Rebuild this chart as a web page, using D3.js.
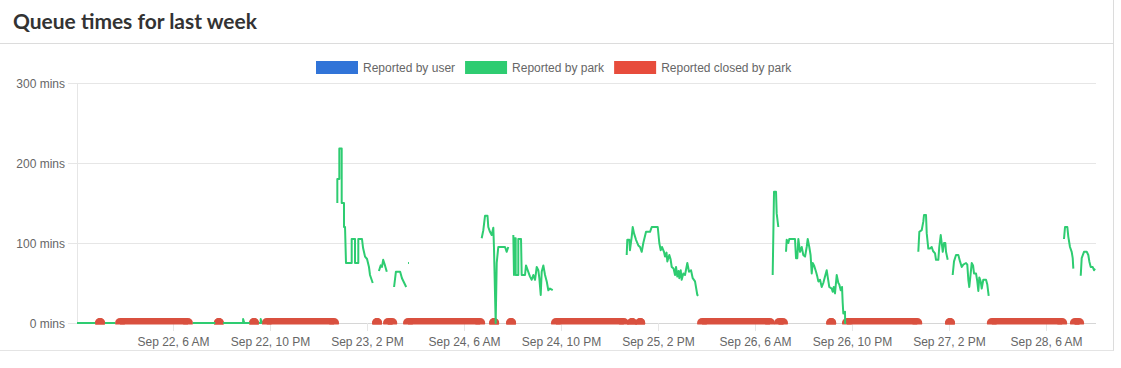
<!DOCTYPE html>
<html>
<head>
<meta charset="utf-8">
<script src="https://cdn.jsdelivr.net/npm/d3@7"></script>
<style>
  html, body { margin: 0; padding: 0; background: #fff; }
  svg { display: block; }
</style>
</head>
<body>
<svg id="chart" width="1121" height="368"></svg>
<script>
// ---------------- DATA ----------------
const chartTitle = "Queue times for last week";
const seriesNames = ["Reported by user", "Reported by park", "Reported closed by park"];
const seriesColors = ["#3174d8", "#2ecc71", "#e74c3c"];

// window start (all times below are hours since this moment)
const windowStart = "2023-09-21T14:10";
const windowHours = 168.08;

// y axis ticks (minutes)
const yTicks = [0, 100, 200, 300];

// x axis ticks
const xTickTimes = ["2023-09-22T06:00", "2023-09-22T22:00", "2023-09-23T14:00", "2023-09-24T06:00",
  "2023-09-24T22:00", "2023-09-25T14:00", "2023-09-26T06:00", "2023-09-26T22:00",
  "2023-09-27T14:00", "2023-09-28T06:00"];
const xTickLabels = ["Sep 22, 6 AM", "Sep 22, 10 PM", "Sep 23, 2 PM", "Sep 24, 6 AM",
  "Sep 24, 10 PM", "Sep 25, 2 PM", "Sep 26, 6 AM", "Sep 26, 10 PM",
  "Sep 27, 2 PM", "Sep 28, 6 AM"];

// reported by user: none in this week
const userReports = [];

// reported by park: [hours since start, minutes]; null = gap
const parkReports = [
  [0,0],[3.0,0], null,
  [4.6,0],[6.3,0], null,
  [19.1,0],[22.8,0], null,
  [24.1,0],[27.4,0],[27.4,5],[27.6,0],[28.5,0], null,
  [30.0,0],[30.3,0],[30.3,5],[30.45,0],[30.5,0], null,
  [42.94,150],[42.94,180],[43.27,180],[43.27,218],[43.66,218],[43.66,150],[44.04,150],[44.04,120],
  [44.21,120],[44.37,75],[45.31,75],[45.31,105],[45.86,105],[45.86,75],[46.40,75],[46.40,105],
  [47.01,105],[47.18,94],[47.51,83],[47.84,80],[48.16,70],[48.33,60],[48.78,50], null,
  [49.8,65],[50.1,72],[50.3,70],[50.5,79],[50.8,72],[51.1,64], null,
  [52.3,45],[52.6,64],[53.3,64],[53.6,56],[54.3,45], null,
  [54.6,75],[54.75,75], null,
  [66.75,106],[67.02,116],[67.30,134],[67.71,134],[67.84,120],[68.12,114],[68.40,110],[68.67,119],
  [68.78,94],[69.06,0],[69.23,75],[69.49,95],[70.60,95],[70.88,89],[71.14,95], null,
  [71.97,110],[72.08,60],[72.13,106],[72.36,106],[72.36,60],[72.79,60],[72.79,105],[73.24,105],
  [73.35,60],[73.90,60],[74.06,72],[74.44,64],[74.72,58],[75.00,54],[75.27,60],[75.55,54],
  [75.83,70],[76.09,66],[76.26,56],[76.49,35],[76.65,64],[76.92,72],[77.20,60],[77.48,52],
  [77.74,41],[78.02,43],[78.47,41], null,
  [90.67,85],[90.77,104],[91.10,104],[91.21,91],[91.50,108],[91.66,120],[91.88,112],[92.21,104],
  [92.59,97],[92.87,95],[93.15,89],[93.41,100],[93.86,114],[94.52,114],[94.80,120],[95.79,120],
  [96.05,100],[96.28,91],[96.49,95],[96.82,89],[96.99,83],[97.24,88],[97.37,77],[97.70,85],
  [97.90,80],[98.10,70],[98.40,68],[98.64,60],[98.81,70],[99.02,58],[99.22,65],[99.35,56],
  [99.58,66],[99.74,54],[100.01,62],[100.29,60],[100.67,75],[100.95,64],[101.28,66],[101.56,56],
  [101.94,52],[102.32,35],[102.48,34], null,
  [114.75,60],[114.97,164],[115.30,164],[115.41,137],[115.68,120], null,
  [116.95,89],[117.06,104],[117.33,100],[117.49,105],[118.43,105],[118.60,81],[118.81,81],[118.98,105],
  [119.26,89],[119.54,95],[119.80,85],[120.09,83],[120.36,95],[120.53,105],[120.79,95],[121.0,85],
  [121.19,62],[121.36,75],[121.57,72],[121.90,64],[122.11,58],[122.28,52],[122.56,54],[122.84,45],
  [123.10,50],[123.38,58],[123.66,66],[123.82,58],[124.09,45],[124.49,43],[124.65,39],[124.82,45],
  [125.03,37],[125.31,60],[125.58,50],[125.74,48],[125.97,41],[126.19,45],[126.30,25],[126.40,12],
  [126.68,14],[126.7,0],[126.85,0], null,
  [138.77,89],[138.94,114],[139.33,116],[139.60,127],[139.71,135],[140.04,135],[140.16,112],[140.42,93],
  [140.70,93],[140.98,95],[141.2,90],[141.53,87],[141.69,79],[142.07,79],[142.23,95],[142.47,110],
  [142.63,100],[142.80,89],[143.01,100],[143.23,100],[143.34,89],[143.62,79], null,
  [144.44,60],[144.66,77],[144.99,85],[145.37,85],[145.65,77],[145.93,70],[146.19,73],[146.64,75],
  [146.85,73],[147.02,54],[147.18,45],[147.41,62],[147.58,75],[147.80,72],[147.96,62],[148.29,62],
  [148.50,52],[148.67,40],[148.83,57],[149.06,52],[149.23,43],[149.49,54],[149.94,54],[150.15,48],
  [150.38,34], null,
  [162.80,105],[162.97,120],[163.35,120],[163.51,108],[163.79,95],[164.07,89],[164.24,81],[164.34,68], null,
  [165.56,59],[165.72,81],[166.10,89],[166.55,89],[166.81,85],[166.98,77],[167.21,70],[167.54,70],
  [167.75,66],[167.92,68]
];

// reported closed by park: periods [from, to] in hours since start
const closedFrom = [3.8, 7.1, 23.4, 29.2, 31.3, 49.5, 51.3, 54.6, 68.8, 71.6,
  79.0, 91.55, 92.9, 103.1, 115.8, 124.4, 127.0, 144.0, 150.9, 164.6];
const closedTo = [3.8, 18.3, 23.4, 29.2, 42.4, 49.5, 52.0, 66.5, 68.8, 71.6,
  90.2, 91.55, 92.9, 114.3, 116.45, 124.4, 138.6, 144.0, 162.5, 165.3];

// ---------------- CHART ----------------
const svg = d3.select("#chart");
const W = 1121, H = 368;
const plot = { left: 77, right: 1096, top: 83, bottom: 323 };
const font = "'Liberation Sans', Arial, sans-serif";
const gridColor = "#e6e6e6";
const textColor = "#666";

const t0 = new Date(windowStart);
const hoursToDate = h => new Date(t0.getTime() + h * 3600e3);

const x = d3.scaleTime()
  .domain([t0, hoursToDate(windowHours)])
  .range([plot.left, plot.right]);
const y = d3.scaleLinear().domain([0, 300]).range([plot.bottom, plot.top]);

// card frame
svg.append("rect").attr("x", 0).attr("y", 0).attr("width", W).attr("height", H).attr("fill", "#fff");
svg.append("line").attr("x1", 0).attr("x2", 1113).attr("y1", 43.5).attr("y2", 43.5)
  .attr("stroke", "#dcdcdc");
svg.append("line").attr("x1", 1113.5).attr("x2", 1113.5).attr("y1", 0).attr("y2", 351)
  .attr("stroke", "#dcdcdc");
svg.append("line").attr("x1", 0).attr("x2", 1113.5).attr("y1", 350.5).attr("y2", 350.5)
  .attr("stroke", "#e4e4e4");

// title
const title = svg.append("text")
  .attr("x", 13).attr("y", 29)
  .attr("font-family", "Lato, 'Open Sans', sans-serif")
  .attr("font-weight", 700)
  .attr("font-size", 20)
  .attr("fill", "#333")
  .text(chartTitle);
// fit title width to the reference width
const tLen = title.node().getComputedTextLength();
title.attr("font-size", 20 * 244 / tLen);

// legend
const legend = svg.append("g").attr("font-family", font).attr("font-size", 12);
let lx = 316;
seriesNames.forEach((name, i) => {
  legend.append("rect").attr("x", lx).attr("y", 61).attr("width", 42).attr("height", 13)
    .attr("fill", seriesColors[i]);
  const t = legend.append("text").attr("x", lx + 47).attr("y", 72).attr("fill", textColor).text(name);
  lx += 47 + t.node().getComputedTextLength() + 10;
});

// y grid + axis
const yAxis = svg.append("g").attr("transform", `translate(${plot.left},0)`)
  .call(d3.axisLeft(y).tickValues(yTicks).tickSize(9).tickPadding(3)
    .tickFormat(d => d + " mins"));
yAxis.select(".domain").remove();
yAxis.selectAll(".tick line").attr("stroke", gridColor);
yAxis.selectAll(".tick text").attr("font-family", font).attr("font-size", 12).attr("fill", textColor)
  .attr("dy", "0.34em");
svg.append("g").selectAll("line").data(yTicks).join("line")
  .attr("x1", plot.left).attr("x2", plot.right)
  .attr("y1", d => Math.round(y(d)) + 0.5).attr("y2", d => Math.round(y(d)) + 0.5)
  .attr("stroke", d => d === 0 ? "#d6d6d6" : gridColor);
svg.append("line").attr("x1", plot.left + 0.5).attr("x2", plot.left + 0.5)
  .attr("y1", plot.top).attr("y2", plot.bottom).attr("stroke", gridColor);

// x axis
const xTickDates = xTickTimes.map(s => new Date(s));
const xAxis = svg.append("g").attr("transform", `translate(0,${plot.bottom})`)
  .call(d3.axisBottom(x).tickValues(xTickDates).tickSize(8).tickPadding(6)
    .tickFormat((d, i) => xTickLabels[i]));
xAxis.select(".domain").remove();
xAxis.selectAll(".tick line").attr("stroke", gridColor);
xAxis.selectAll(".tick text").attr("font-family", font).attr("font-size", 12).attr("fill", textColor);

// clip for plotted marks
svg.append("clipPath").attr("id", "plotclip").append("rect")
  .attr("x", plot.left - 6).attr("y", plot.top - 10)
  .attr("width", plot.right - plot.left + 12).attr("height", plot.bottom - plot.top + 11.5);
const marks = svg.append("g").attr("clip-path", "url(#plotclip)");

// closed periods (red rounded bars on the zero line)
const closedColor = "#d9503f";
const r = 5;
const closed = d3.range(closedFrom.length).map(i => ({ a: hoursToDate(closedFrom[i]), b: hoursToDate(closedTo[i]) }));
const cg = marks.append("g").attr("fill", closedColor);
closed.forEach(p => {
  const xa = x(p.a), xb = x(p.b), yy = y(0);
  cg.append("rect").attr("x", xa).attr("y", yy - r).attr("width", Math.max(0, xb - xa)).attr("height", 2 * r);
  cg.append("circle").attr("cx", xa).attr("cy", yy).attr("r", r);
  cg.append("circle").attr("cx", xb).attr("cy", yy).attr("r", r);
});

// park line
const parkData = parkReports.map(d => d ? { t: hoursToDate(d[0]), v: d[1] } : null);
const line = d3.line()
  .defined(d => d !== null)
  .x(d => x(d.t))
  .y(d => y(d.v));
marks.append("path").datum(parkData)
  .attr("fill", "none")
  .attr("stroke", seriesColors[1])
  .attr("stroke-width", 2)
  .attr("stroke-linejoin", "round")
  .attr("d", line);

// user reports (none this week)
marks.append("g").selectAll("circle").data(userReports).join("circle")
  .attr("cx", d => x(hoursToDate(d[0]))).attr("cy", d => y(d[1])).attr("r", 4)
  .attr("fill", seriesColors[0]);
</script>
</body>
</html>
